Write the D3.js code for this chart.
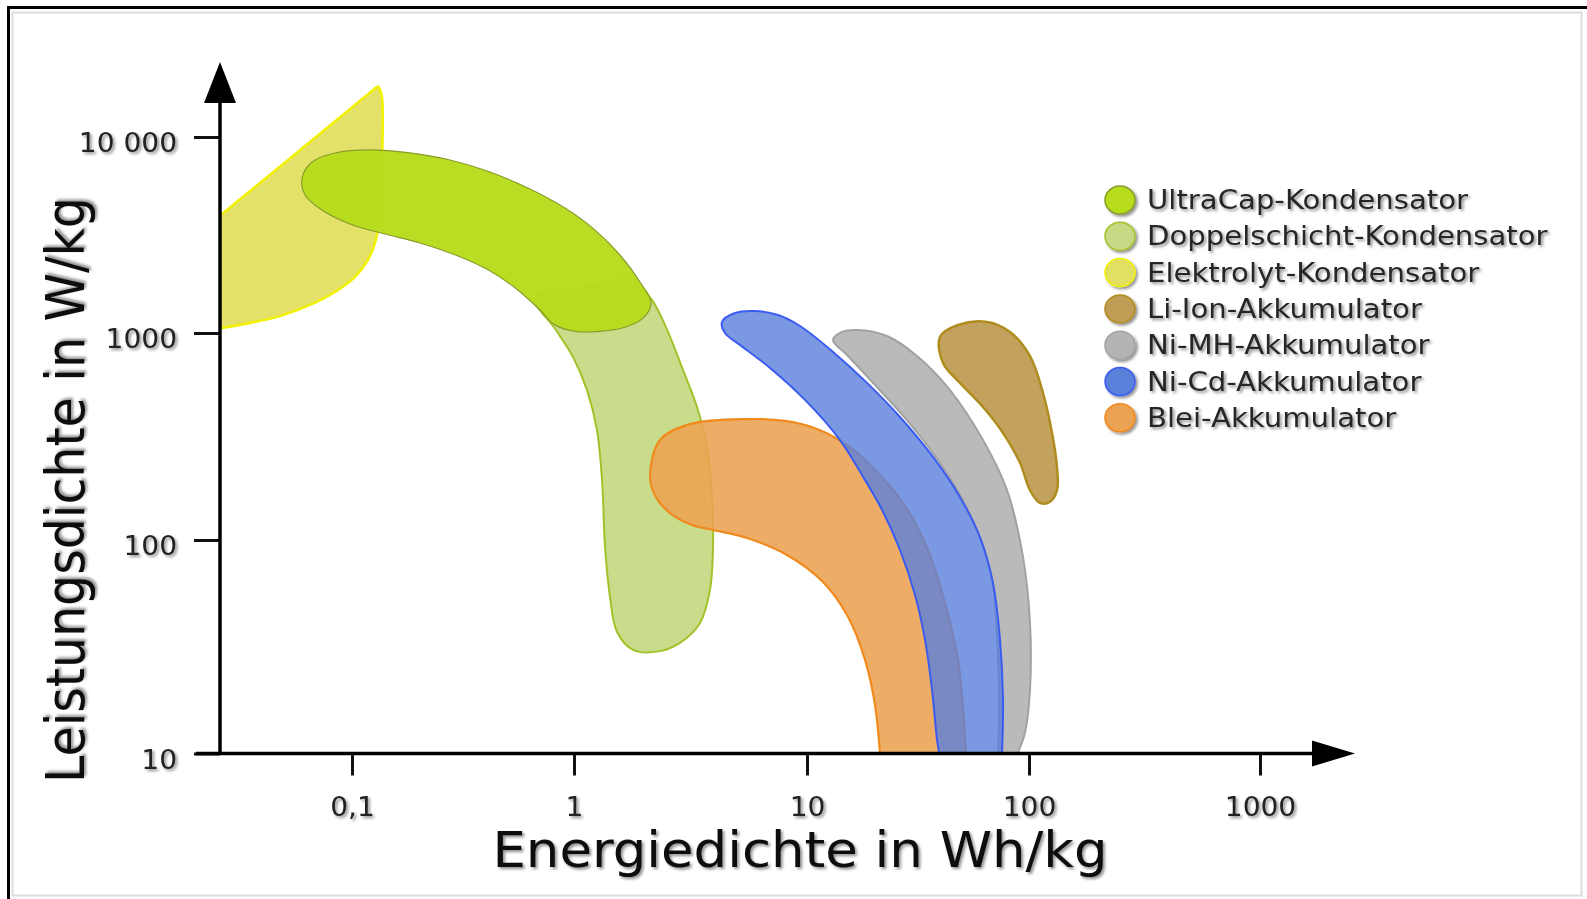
<!DOCTYPE html>
<html>
<head>
<meta charset="utf-8">
<script src="https://cdn.jsdelivr.net/npm/d3@7"></script>
<style>
  html, body { margin: 0; padding: 0; background: #fff; }
  svg { display: block; }
  text { font-family: "DejaVu Sans", Verdana, sans-serif; }
</style>
</head>
<body>
<svg id="chart" width="1587" height="899"></svg>
<script>
// Ragone diagram: outline of each storage technology as [energy density Wh/kg, power density W/kg].
// Corner vertices are listed twice so the smoothing keeps them sharp.
const ultraCap = [[0.0596,6180],[0.0661,7450],[0.0838,8290],[0.1205,8590],[0.1824,8290],[0.2763,7630],[0.4183,6630],[0.6334,5430],[0.911,4340],[1.231,3350],[1.575,2500],[1.920,1820],[2.141,1420],[1.978,1190],[1.655,1070],[1.293,1020],[1.010,1020],[0.821,1100],[0.7027,1310],[0.5423,1700],[0.4098,2100],[0.3002,2470],[0.2025,2880],[0.1408,3200],[0.0979,3600],[0.0732,4240],[0.0614,5060]];

const doppelschicht = [[0.6672,1509],[1.115,1700],[1.774,1860],[2.162,1470],[2.507,1040],[2.936,663],[3.373,439],[3.723,281],[3.912,161],[3.950,92.7],[3.834,58.4],[3.474,40.9],[2.850,33.0],[2.271,30.0],[1.792,30.6],[1.529,37.2],[1.427,54.2],[1.359,92.7],[1.319,195],[1.255,340],[1.137,530],[0.990,766],[0.8297,1036]];

const elektrolyt = [[0.131,18200],[0.131,18200],[0.136,16400],[0.136,6400],[0.134,4000],[0.128,2980],[0.118,2360],[0.103,1930],[0.0838,1620],[0.0647,1390],[0.0474,1220],[0.0347,1125],[0.026,1060],[0.0207,1024],[0.0207,3275],[0.0207,3275]];

const liIon = [[39.72,957],[47.88,1099],[64.70,1138],[82.10,1012],[101.0,774],[115.0,513],[125.8,329],[132.2,225],[132.2,174],[123.3,153],[111.6,151],[101.0,174],[91.11,236],[76.38,329],[62.06,439],[48.89,574],[40.98,717]];

const niMH = [[13.10,925],[14.38,1012],[16.80,1036],[22.94,967],[31.30,774],[44.07,530],[62.06,304],[79.62,174],[93.97,83.3],[101.0,40.9],[101.0,19.9],[95.94,12.5],[89.22,10],[82.10,6.79],[71.03,6.79],[72.52,10],[73.27,17.9],[71.76,36.0],[68.13,65.0],[60.16,103],[48.89,165],[37.72,255],[27.63,389],[20.25,561],[15.30,774]];

const niCd = [[4.316,1138],[4.909,1265],[5.981,1295],[7.509,1235],[9.333,1086],[13.10,810],[18.64,574],[26.23,393],[36.95,252],[48.89,161],[60.16,103],[68.83,63],[74.04,34.1],[76.38,17.9],[75.58,10],[74.04,6.79],[39.32,6.79],[39.32,10],[38.51,11.6],[36.57,19.9],[34.01,34.1],[30.66,55.3],[26.23,89.8],[21.77,140],[17.69,206],[14.08,304],[9.804,475],[6.938,678],[5.159,875],[4.446,1000]];

const blei = [[2.120,201.5],[2.339,304],[3.146,363],[5.527,384],[8.045,376],[11.09,344],[15.62,281],[21.32,206],[27.63,146],[35.08,89.8],[42.28,48.6],[47.88,27.5],[50.44,16.4],[52.03,10],[53.12,6.79],[21.77,6.79],[21.32,10],[20.25,16.9],[18.25,27.5],[15.30,43.7],[11.81,63.6],[8.207,85.1],[5.527,102.2],[3.950,111.8],[3.209,118.2],[2.582,135],[2.248,161]];

const legendNames = ["UltraCap-Kondensator", "Doppelschicht-Kondensator", "Elektrolyt-Kondensator", "Li-Ion-Akkumulator", "Ni-MH-Akkumulator", "Ni-Cd-Akkumulator", "Blei-Akkumulator"];
const outlines = [ultraCap, doppelschicht, elektrolyt, liIon, niMH, niCd, blei];

const xTickValues = [0.1, 1, 10, 100, 1000];
const xTickLabels = ["0,1", "1", "10", "100", "1000"];
const yTickValues = [10, 100, 1000, 10000];
const yTickLabels = ["10", "100", "1000", "10 000"];

const xTitle = "Energiedichte in Wh/kg";
const yTitle = "Leistungsdichte in W/kg";

// Styles per technology (same order as legendNames)
const fills     = ["#b6dc1c", "#c6da86", "#e3df62", "#c09d55", "#b4b4b4", "#5a80dc", "#eca252"];
const fillOps   = [0.97, 0.95, 0.95, 0.95, 0.92, 0.8, 0.88];
const strokes   = ["#8a9c2a", "#a3c22a", "#f2f200", "#b08c1e", "#a2a2a2", "#3b5cf0", "#f08a1c"];
const strokeWs  = [1.2, 2, 2.5, 2.5, 2, 2, 2.2];
// Painting order (indices into legendNames)
const drawOrder = [2, 1, 0, 6, 4, 5, 3];

const svg = d3.select("#chart");
const STRETCH = 1.08;

// Log scales with hand-placed decades
const x = d3.scaleLog().domain(xTickValues).range([352, 574, 807, 1029, 1260]);
const y = d3.scaleLog().domain(yTickValues).range([753.5, 540, 333, 137]);
const axisX0 = 220, axisY0 = 753.5;

const defs = svg.append("defs");
const sh = defs.append("filter").attr("id", "shadow")
  .attr("x", "-20%").attr("y", "-30%").attr("width", "150%").attr("height", "170%");
sh.append("feGaussianBlur").attr("in", "SourceAlpha").attr("stdDeviation", 1.6).attr("result", "b");
sh.append("feOffset").attr("in", "b").attr("dx", 2).attr("dy", 2).attr("result", "o");
sh.append("feComponentTransfer").attr("in", "o").attr("result", "s")
  .append("feFuncA").attr("type", "linear").attr("slope", 0.45);
const m = sh.append("feMerge");
m.append("feMergeNode").attr("in", "s");
m.append("feMergeNode").attr("in", "SourceGraphic");

defs.append("clipPath").attr("id", "plot")
  .append("rect").attr("x", axisX0).attr("y", 40).attr("width", 1140).attr("height", axisY0 - 40);

// Page frame
svg.append("rect").attr("x", 12.5).attr("y", 12.5).attr("width", 1569).attr("height", 883)
  .attr("fill", "none").attr("stroke", "#dcdcdc").attr("stroke-width", 2);
svg.append("path").attr("d", "M8.5,899V7.5H1587")
  .attr("fill", "none").attr("stroke", "#000").attr("stroke-width", 3);

// Regions
const line = d3.line().x(d => x(d[0])).y(d => y(d[1])).curve(d3.curveCatmullRomClosed.alpha(0.5));
const regions = svg.append("g").attr("clip-path", "url(#plot)");
drawOrder.forEach(i => {
  regions.append("path")
    .attr("d", line(outlines[i]))
    .attr("fill", fills[i])
    .attr("fill-opacity", fillOps[i])
    .attr("stroke", strokes[i])
    .attr("stroke-width", strokeWs[i])
    .attr("stroke-linejoin", "round");
});

// Axes
const gx = svg.append("g").attr("transform", `translate(0,${axisY0})`)
  .call(d3.axisBottom(x).tickValues(xTickValues).tickFormat((d, i) => xTickLabels[i])
    .tickSize(22).tickPadding(22.5).tickSizeOuter(0));
gx.select(".domain").remove();
gx.selectAll(".tick line").attr("stroke", "#111").attr("stroke-width", 3);
gx.selectAll(".tick text")
  .attr("font-size", 26).attr("font-family", "DejaVu Sans, Verdana, sans-serif")
  .attr("fill", "#222").attr("transform", `scale(${STRETCH},1)`).attr("filter", "url(#shadow)");

const gy = svg.append("g").attr("transform", `translate(${axisX0},0)`)
  .call(d3.axisLeft(y).tickValues(yTickValues).tickFormat((d, i) => yTickLabels[i])
    .tickSize(26).tickPadding(17).tickSizeOuter(0));
gy.select(".domain").remove();
gy.selectAll(".tick line").attr("stroke", "#111").attr("stroke-width", 3);
gy.selectAll(".tick text")
  .attr("font-size", 26).attr("font-family", "DejaVu Sans, Verdana, sans-serif")
  .attr("fill", "#222").attr("x", -43 / STRETCH).attr("dy", "0.56em")
  .attr("transform", `scale(${STRETCH},1)`).attr("filter", "url(#shadow)");

// Axis lines with arrow heads
svg.append("line").attr("x1", 196).attr("y1", axisY0).attr("x2", 1316).attr("y2", axisY0)
  .attr("stroke", "#000").attr("stroke-width", 3.5);
svg.append("line").attr("x1", axisX0).attr("y1", axisY0 + 1.5).attr("x2", axisX0).attr("y2", 100)
  .attr("stroke", "#000").attr("stroke-width", 3.5);
svg.append("path").attr("d", `M${axisX0},62L${axisX0 + 16},103L${axisX0 - 16},103Z`).attr("fill", "#000");
svg.append("path").attr("d", `M1355,${axisY0}L1312,${axisY0 - 13}L1312,${axisY0 + 13}Z`).attr("fill", "#000");

// Axis titles
svg.append("g").attr("transform", `translate(800,867) scale(${STRETCH},1)`)
  .append("text").attr("text-anchor", "middle").attr("font-size", 49).attr("fill", "#111")
  .attr("filter", "url(#shadow)").text(xTitle);
svg.append("g").attr("transform", `translate(84,490) rotate(-90) scale(1,${STRETCH})`)
  .append("text").attr("text-anchor", "middle").attr("font-size", 49).attr("fill", "#111")
  .attr("filter", "url(#shadow)").text(yTitle);

// Legend
const legend = svg.append("g");
legendNames.forEach((name, i) => {
  const cy = 200 + i * 36.3;
  legend.append("ellipse").attr("cx", 1120).attr("cy", cy).attr("rx", 15).attr("ry", 14)
    .attr("fill", fills[i]).attr("stroke", strokes[i]).attr("stroke-width", 1.5)
    .attr("filter", "url(#shadow)");
  legend.append("g").attr("transform", `translate(1147,${cy + 9}) scale(1.1,1)`)
    .append("text").attr("font-size", 26.5).attr("fill", "#262626")
    .attr("filter", "url(#shadow)").text(name);
});
</script>
</body>
</html>
